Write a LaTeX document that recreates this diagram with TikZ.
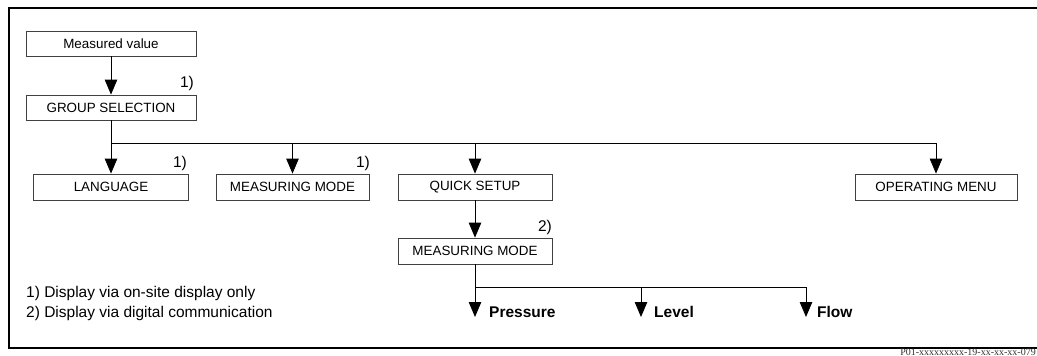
\documentclass[tikz,border=0pt]{standalone}
\usepackage{fontspec}
\setmainfont{Liberation Sans}
\newfontfamily\serifp{Liberation Serif}
\usetikzlibrary{arrows.meta}
\begin{document}
\begin{tikzpicture}[x=1pt,y=-1pt,
 box/.style={draw=black!75, line width=0.8pt, minimum height=26pt, inner sep=0pt, font=\fontsize{13.4}{15}\selectfont},
 conn/.style={line width=0.8pt, -{Triangle[width=12.5pt,length=15pt]}},
 plain/.style={line width=0.8pt},
 note/.style={font=\fontsize{15.5}{18}\selectfont, inner sep=0pt},
 opt/.style={font=\bfseries\fontsize{15.5}{18}\selectfont, inner sep=0pt, anchor=base west},
]
\useasboundingbox (0,0) rectangle (1037,356);
\draw[line width=1.2pt] (1037,8) -- (9,8) -- (9,348) -- (1037,348);

\node[box, minimum width=170pt, minimum height=25pt] (mv) at (111,43.5) {Measured value};
\node[box, minimum width=170pt, minimum height=25pt] (gs) at (111,107.5) {GROUP SELECTION};
\node[box, minimum width=155pt] (lang) at (111,187) {LANGUAGE};
\node[box, minimum width=153pt] (mm1) at (292.5,187) {MEASURING MODE};
\node[box, minimum width=154pt] (qs) at (475,187) {QUICK SETUP};
\node[box, minimum width=162pt] (om) at (936,187) {OPERATING MENU};
\node[box, minimum width=154pt] (mm2) at (475,251) {MEASURING MODE};

\draw[conn] (mv) -- (gs);
\coordinate (j1) at (111,143);
\draw[plain] (gs.south) -- (j1) -- (j1 -| om.north);
\draw[conn] (j1) -- (lang.north);
\draw[conn] (j1 -| mm1.north) -- (mm1.north);
\draw[conn] (j1 -| qs.north) -- (qs.north);
\draw[conn] (j1 -| om.north) -- (om.north);
\draw[conn] (qs) -- (mm2);

\coordinate (p1) at (475,317);
\coordinate (p2) at (641,317);
\coordinate (p3) at (806,317);
\coordinate (j2) at (475,287);
\draw[plain] (mm2.south) -- (j2) -- (j2 -| p3);
\draw[conn] (j2) -- (p1);
\draw[conn] (j2 -| p2) -- (p2);
\draw[conn] (j2 -| p3) -- (p3);
\node[opt] (tp) at (489,317) {Pressure};
\node[opt] (tl) at (654,317) {Level};
\node[opt] (tf) at (817,317) {Flow};

\node[note] (n1) at (187,83) {1)};
\node[note] (n2) at (180,163) {1)};
\node[note] (n3) at (363,163) {1)};
\node[note] (n4) at (545,227) {2)};

\node[note, anchor=base west] (f1) at (26,297) {1) Display via on-site display only};
\node[note, anchor=base west] (f2) at (26,317) {2) Display via digital communication};

\node[font=\serifp\fontsize{10}{12}\selectfont, text=black!80, anchor=south east, inner sep=0pt] (code) at (1036,355.5) {P01-xxxxxxxxx-19-xx-xx-xx-079};
\end{tikzpicture}
\end{document}
